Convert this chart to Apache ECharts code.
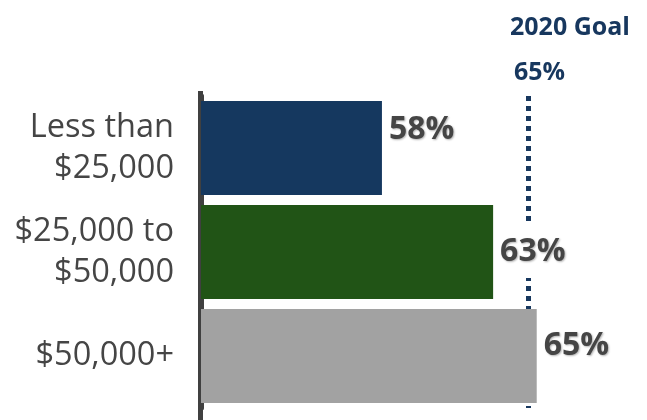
<!DOCTYPE html>
<html><head><meta charset="utf-8">
<script src="https://cdn.jsdelivr.net/npm/echarts@6/dist/echarts.min.js"></script>
<style>html,body{margin:0;padding:0;background:#fff}#c{width:647px;height:420px}</style>
</head><body><div id="c"></div>
<script>
var categories = ['Less than\n$25,000', '$25,000 to\n$50,000', '$50,000+'];
var values = [58.3, 63.4, 65.4];
var valueLabels = ['58%', '63%', '65%'];
var barColors = ['#15385f', '#215416', '#a2a2a2'];
var goalValue = 65;
var goalTitle = '2020 Goal';
var goalLabel = '65%';

var labelOffsets = [[0, -18], [0, 0], [0, -10]];
var chart = echarts.init(document.getElementById('c'));
chart.setOption({
  animation: false,
  grid: { left: 201, right: 10, top: 96, bottom: 12 },
  xAxis: { type: 'value', min: 50, max: 70, show: false },
  yAxis: {
    type: 'category', inverse: true, data: categories.map(function (c, i) {
      return i === 2 ? { value: c, textStyle: { padding: [0, 0, 18, 0] } } : c;
    }),
    axisTick: { show: false },
    axisLine: { lineStyle: { color: '#404040', width: 5 } },
    axisLabel: { fontFamily: 'Open Sans', fontSize: 32.5, color: '#454545', lineHeight: 41, margin: 27, align: 'right' }
  },
  series: [{
    type: 'bar', barCategoryGap: '9.6%',
    data: values.map(function (v, i) {
      return { value: v, itemStyle: { color: barColors[i] },
        label: { offset: labelOffsets[i], formatter: valueLabels[i] } };
    }),
    label: {
      show: true, position: 'right', distance: 5,
      fontFamily: 'Open Sans', fontWeight: 'bold', fontSize: 32, color: '#454545',
      textShadowColor: 'rgba(0,0,0,0.3)', textShadowOffsetX: 1, textShadowOffsetY: 1, textShadowBlur: 2,
      backgroundColor: '#fff', padding: [10, 2]
    },
    z: 3,
    markLine: {
      silent: true, symbol: 'none', z: 1,
      lineStyle: { color: '#17375e', width: 5, type: [5, 5], cap: 'butt' },
      label: {
        show: true, position: 'start', offset: [42, 4],
        formatter: '{g|' + goalTitle + '}\n{v|' + goalLabel + '}',
        rich: {
          g: { fontFamily: 'Open Sans', fontWeight: 'bold', fontSize: 25, color: '#17375e', lineHeight: 45 },
          v: { fontFamily: 'Open Sans', fontWeight: 'bold', fontSize: 25, color: '#17375e', lineHeight: 45, align: 'left', padding: [0, 0, 0, 4] }
        }
      },
      data: [{ xAxis: goalValue }]
    }
  }],
  graphic: [{ type: 'rect', left: 198, top: 91, shape: { width: 5, height: 329 }, style: { fill: '#404040' }, z: 0 }]
});
</script></body></html>
